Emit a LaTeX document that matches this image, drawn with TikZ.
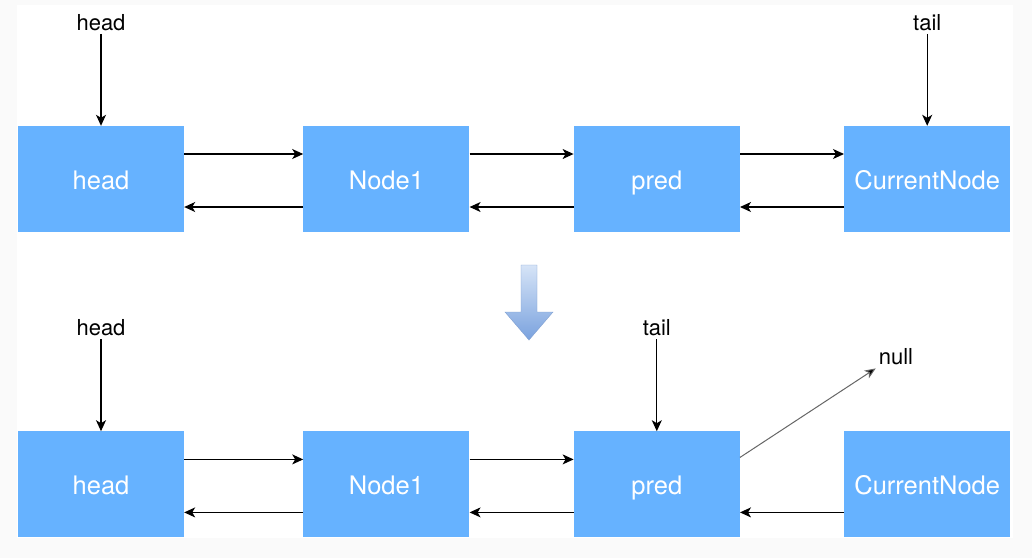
\documentclass[tikz,border=0pt]{standalone}
\usepackage{fontspec}
\setmainfont{TeX Gyre Heros}
\usepackage{xcolor}
\usepackage{tikz}
\usetikzlibrary{arrows.meta,positioning}

\definecolor{boxblue}{HTML}{66B2FF}
\definecolor{pagegray}{HTML}{FAFAFA}

\begin{document}
\begin{tikzpicture}[x=1pt, y=-1pt, >={Stealth[length=11pt,width=10pt,inset=3pt]}]
    \tikzstyle{listnode} = [rectangle, fill=boxblue, text=white, minimum width=166pt, minimum height=106pt, inner sep=0pt, text height=22pt, text depth=1pt, font=\fontsize{25.5}{28}\selectfont]
    \tikzstyle{ptr} = [font=\fontsize{22}{24}\selectfont, inner sep=3pt]
    \tikzstyle{link} = [line width=1.2pt, ->]

    % Page
    \useasboundingbox (0,0) rectangle (1032,558);
    \fill[pagegray] (0,0) rectangle (1032,558);
    \fill[white] (17,5) rectangle (1013,538);

    % Before
    \node [listnode] (head1) at (101,179) {head};
    \node [listnode, right=119pt of head1] (node1a) {Node1};
    \node [listnode, right=104pt of node1a] (pred1) {pred};
    \node [listnode, right=104pt of pred1] (cur1) {CurrentNode};

    \node [ptr, above=92pt of head1] (headlbl1) {head};
    \node [ptr, above=92pt of cur1] (taillbl1) {tail};
    \draw [link] (headlbl1) -- (head1);
    \draw [link] (taillbl1) -- (cur1);

    \draw [link] ([yshift=25pt]head1.east) -- ([yshift=25pt]node1a.west);
    \draw [link] ([yshift=25pt]node1a.east) -- ([yshift=25pt]pred1.west);
    \draw [link] ([yshift=25pt]pred1.east) -- ([yshift=25pt]cur1.west);
    \draw [link] ([yshift=-28pt]node1a.west) -- ([yshift=-28pt]head1.east);
    \draw [link] ([yshift=-28pt]pred1.west) -- ([yshift=-28pt]node1a.east);
    \draw [link] ([yshift=-28pt]cur1.west) -- ([yshift=-28pt]pred1.east);

    % Big arrow
    \draw [draw={rgb,255:red,128;green,160;blue,210}, top color={rgb,255:red,214;green,228;blue,247}, bottom color={rgb,255:red,122;green,162;blue,222}]
        (521,265) -- (537,265) -- (537,312) -- (553,312) -- (529,340) -- (505,312) -- (521,312) -- cycle;

    % After
    \node [listnode, below=199pt of head1] (head2) {head};
    \node [listnode, right=119pt of head2] (node2a) {Node1};
    \node [listnode, right=104pt of node2a] (pred2) {pred};
    \node [listnode, right=104pt of pred2] (cur2) {CurrentNode};

    \node [ptr, above=92pt of head2] (headlbl2) {head};
    \node [ptr, above=92pt of pred2] (taillbl2) {tail};
    \draw [link] (headlbl2) -- (head2);
    \draw [link] (taillbl2) -- (pred2);

    \draw [link] ([yshift=25pt]head2.east) -- ([yshift=25pt]node2a.west);
    \draw [link] ([yshift=25pt]node2a.east) -- ([yshift=25pt]pred2.west);
    \draw [link] ([yshift=-28pt]node2a.west) -- ([yshift=-28pt]head2.east);
    \draw [link] ([yshift=-28pt]pred2.west) -- ([yshift=-28pt]node2a.east);
    \draw [link] ([yshift=-28pt]cur2.west) -- ([yshift=-28pt]pred2.east);

    % pred.next -> null
    \node [ptr] (nulllbl) at (896,357) {null};
    \draw [line width=1pt, draw=black!60, ->, >={Stealth[length=11pt,width=9pt,inset=3pt,fill=black]}] ([yshift=27pt]pred2.east) -- (nulllbl.south west);
\end{tikzpicture}
\end{document}
